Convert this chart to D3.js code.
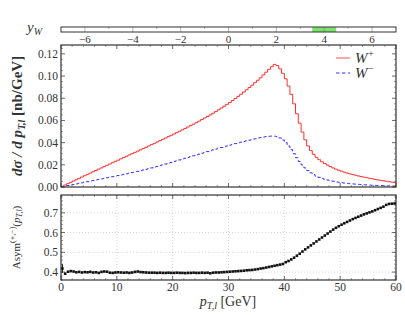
<!DOCTYPE html>
<html>
<head>
<meta charset="utf-8">
<script src="https://cdn.jsdelivr.net/npm/d3@7"></script>
<style>
  body { margin: 0; background: #fff; }
  svg text { font-family: "Liberation Serif", "DejaVu Serif", serif; fill: #333; }
</style>
</head>
<body>
<div id="wrapper"></div>
<script>
// bins of 0.5 GeV in p_T,l, from 0 to 60
const binWidth = 0.5
const wPlus = [
  0.0006, 0.0018, 0.0030, 0.0042, 0.0054, 0.0066, 0.0078, 0.0090, 0.0102, 0.0114,
  0.0125, 0.0137, 0.0149, 0.0161, 0.0172, 0.0184, 0.0196, 0.0207, 0.0219, 0.0231,
  0.0242, 0.0254, 0.0266, 0.0277, 0.0289, 0.0300, 0.0312, 0.0323, 0.0335, 0.0347,
  0.0358, 0.0370, 0.0382, 0.0394, 0.0406, 0.0418, 0.0430, 0.0442, 0.0454, 0.0466,
  0.0478, 0.0490, 0.0503, 0.0515, 0.0528, 0.0541, 0.0554, 0.0567, 0.0580, 0.0594,
  0.0608, 0.0622, 0.0636, 0.0650, 0.0665, 0.0680, 0.0696, 0.0712, 0.0728, 0.0745,
  0.0762, 0.0780, 0.0798, 0.0817, 0.0836, 0.0856, 0.0876, 0.0897, 0.0918, 0.0940,
  0.0962, 0.0984, 0.1010, 0.1035, 0.1060, 0.1085, 0.1105, 0.1095, 0.1065, 0.1025,
  0.0975, 0.0910, 0.0835, 0.0750, 0.0660, 0.0575, 0.0495, 0.0425, 0.0370, 0.0328,
  0.0295, 0.0268, 0.0246, 0.0227, 0.0211, 0.0197, 0.0184, 0.0172, 0.0161, 0.0151,
  0.0142, 0.0134, 0.0126, 0.0119, 0.0112, 0.0106, 0.0100, 0.0094, 0.0089, 0.0084,
  0.0079, 0.0075, 0.0068, 0.0064, 0.0060, 0.0056, 0.0052, 0.0048, 0.0044, 0.0040,
]
const wMinus = [
  0.0003, 0.0008, 0.0013, 0.0018, 0.0023, 0.0028, 0.0033, 0.0038, 0.0043, 0.0048,
  0.0053, 0.0058, 0.0063, 0.0068, 0.0073, 0.0078, 0.0083, 0.0088, 0.0093, 0.0098,
  0.0103, 0.0108, 0.0113, 0.0119, 0.0124, 0.0130, 0.0135, 0.0141, 0.0147, 0.0153,
  0.0159, 0.0166, 0.0172, 0.0179, 0.0186, 0.0193, 0.0200, 0.0207, 0.0214, 0.0221,
  0.0229, 0.0236, 0.0244, 0.0251, 0.0259, 0.0266, 0.0274, 0.0281, 0.0289, 0.0296,
  0.0304, 0.0311, 0.0319, 0.0326, 0.0334, 0.0341, 0.0349, 0.0356, 0.0363, 0.0370,
  0.0377, 0.0384, 0.0391, 0.0397, 0.0404, 0.0410, 0.0416, 0.0422, 0.0428, 0.0434,
  0.0440, 0.0445, 0.0450, 0.0454, 0.0457, 0.0459, 0.0458, 0.0453, 0.0442, 0.0424,
  0.0400, 0.0370, 0.0336, 0.0300, 0.0264, 0.0230, 0.0199, 0.0172, 0.0148, 0.0128,
  0.0112, 0.0098, 0.0087, 0.0078, 0.0070, 0.0063, 0.0057, 0.0052, 0.0047, 0.0043,
  0.0039, 0.0036, 0.0033, 0.0030, 0.0028, 0.0026, 0.0024, 0.0022, 0.0020, 0.0019,
  0.0017, 0.0016, 0.0015, 0.0014, 0.0013, 0.0012, 0.0011, 0.0010, 0.0010, 0.0009,
]
const asym = [
  0.418, 0.392, 0.402, 0.405, 0.403, 0.399, 0.401, 0.398, 0.400, 0.399,
  0.401, 0.398, 0.399, 0.396, 0.401, 0.403, 0.402, 0.397, 0.396, 0.398,
  0.399, 0.398, 0.397, 0.398, 0.396, 0.398, 0.401, 0.403, 0.400, 0.399,
  0.398, 0.397, 0.397, 0.397, 0.396, 0.397, 0.396, 0.396, 0.397, 0.396,
  0.396, 0.397, 0.396, 0.396, 0.395, 0.396, 0.396, 0.397, 0.396, 0.396,
  0.397, 0.396, 0.397, 0.394, 0.397, 0.398, 0.398, 0.399, 0.400, 0.401,
  0.402, 0.403, 0.404, 0.405, 0.406, 0.407, 0.409, 0.410, 0.411, 0.413,
  0.415, 0.418, 0.420, 0.423, 0.426, 0.429, 0.432, 0.435, 0.438, 0.441,
  0.450, 0.456, 0.464, 0.473, 0.483, 0.493, 0.504, 0.515, 0.525, 0.535,
  0.545, 0.555, 0.565, 0.575, 0.585, 0.595, 0.605, 0.615, 0.624, 0.632,
  0.640, 0.647, 0.654, 0.661, 0.668, 0.674, 0.680, 0.686, 0.692, 0.697,
  0.702, 0.707, 0.713, 0.719, 0.725, 0.731, 0.740, 0.745, 0.746, 0.747,
]
const asymErr0 = 0.022
const yWTicks = [-6, -4, -2, 0, 2, 4, 6]
const yWBin = [3.5, 4.5]
const mainYTicks = [0, 0.02, 0.04, 0.06, 0.08, 0.10, 0.12]
const asymYTicks = [0.4, 0.5, 0.6, 0.7]
const ptTicks = [0, 10, 20, 30, 40, 50, 60]

const plot = { left: 61, right: 396 }
const bar = { top: 27, bottom: 32 }
const main = { top: 45, bottom: 187 }
const low = { top: 195, bottom: 280 }

const svg = d3.select("#wrapper")
  .append("svg")
  .attr("width", 405)
  .attr("height", 315)

const xScale = d3.scaleLinear().domain([0, 60]).range([plot.left, plot.right])
const yWScale = d3.scaleLinear().domain([-7, 7]).range([plot.left, plot.right])
const yMain = d3.scaleLinear().domain([0, 0.128]).range([main.bottom, main.top])
const yAsym = d3.scaleLinear().domain([0.36, 0.79]).range([low.bottom, low.top])

// ---- rapidity bin indicator
svg.append("rect")
  .attr("x", yWScale(yWBin[0])).attr("y", bar.top)
  .attr("width", yWScale(yWBin[1]) - yWScale(yWBin[0]))
  .attr("height", bar.bottom - bar.top)
  .attr("fill", "#7be36b")
d3.range(-6, 7).forEach(v => {
  svg.append("line")
    .attr("x1", yWScale(v)).attr("x2", yWScale(v))
    .attr("y1", bar.top).attr("y2", v % 2 === 0 ? bar.bottom : bar.top + 2)
    .attr("stroke", "#888").attr("stroke-width", 0.6)
})
svg.append("rect")
  .attr("x", plot.left).attr("y", bar.top)
  .attr("width", plot.right - plot.left).attr("height", bar.bottom - bar.top)
  .attr("fill", "none").attr("stroke", "#333").attr("stroke-width", 1)
svg.selectAll(".ywlab").data(yWTicks).join("text")
  .attr("x", d => yWScale(d)).attr("y", 43)
  .attr("text-anchor", "middle").attr("font-size", 11)
  .text(d => d < 0 ? "\u2212" + (-d) : d)
svg.append("text").attr("x", 27).attr("y", 32)
  .attr("font-size", 15).attr("font-style", "italic")
  .html('y<tspan font-size="10" dy="3">W</tspan>')

// ---- frame helper with inward ticks
function frame(top, bottom, yScale, yMajor, yMinorStep, showX) {
  const g = svg.append("g")
  const xMinor = d3.range(0, 60.01, 2)
  xMinor.forEach(v => {
    const major = v % 10 === 0
    const len = major ? 4 : 2
    ;[[bottom, bottom - len], [top, top + len]].forEach(([a, b]) => {
      g.append("line").attr("x1", xScale(v)).attr("x2", xScale(v))
        .attr("y1", a).attr("y2", b)
        .attr("stroke", "#444").attr("stroke-width", major ? 0.8 : 0.5)
    })
  })
  const [y0, y1] = yScale.domain()
  d3.range(Math.ceil(y0 / yMinorStep) * yMinorStep, y1, yMinorStep).forEach(v => {
    const major = yMajor.some(m => Math.abs(m - v) < 1e-6)
    const len = major ? 4 : 2
    ;[[plot.left, plot.left + len], [plot.right, plot.right - len]].forEach(([a, b]) => {
      g.append("line").attr("x1", a).attr("x2", b)
        .attr("y1", yScale(v)).attr("y2", yScale(v))
        .attr("stroke", "#444").attr("stroke-width", major ? 0.8 : 0.5)
    })
  })
  g.append("rect")
    .attr("x", plot.left).attr("y", top)
    .attr("width", plot.right - plot.left).attr("height", bottom - top)
    .attr("fill", "none").attr("stroke", "#333").attr("stroke-width", 1.2)
  g.selectAll(".ylab").data(yMajor).join("text")
    .attr("x", plot.left - 3).attr("y", d => yScale(d) + 4)
    .attr("text-anchor", "end").attr("font-size", 11.5)
    .text(d => d3.format(yMajor[1] - yMajor[0] < 0.05 ? ".2f" : ".1f")(d))
  if (showX) {
    g.selectAll(".xlab").data(ptTicks).join("text")
      .attr("x", d => xScale(d)).attr("y", bottom + 11)
      .attr("text-anchor", "middle").attr("font-size", 11.5)
      .text(d => d)
  }
}

// ---- main panel
const edges = wPlus.map((d, i) => i * binWidth)
const stepLine = d3.line()
  .x(d => xScale(d[0]))
  .y(d => yMain(d[1]))
  .curve(d3.curveStepAfter)
const toSteps = vals => vals.map((v, i) => [edges[i], v]).concat([[60, vals[vals.length - 1]]])

svg.append("path")
  .attr("d", stepLine(toSteps(wPlus)))
  .attr("fill", "none").attr("stroke", "#ff3030").attr("stroke-width", 1)
svg.append("path")
  .attr("d", stepLine(toSteps(wMinus)))
  .attr("fill", "none").attr("stroke", "#3030ff").attr("stroke-width", 1)
  .attr("stroke-dasharray", "3.5,2.5")

frame(main.top, main.bottom, yMain, mainYTicks, 0.005, false)

// legend
svg.append("line").attr("x1", 336).attr("x2", 350).attr("y1", 58).attr("y2", 58)
  .attr("stroke", "#ff6b6b").attr("stroke-width", 1.2)
svg.append("text").attr("x", 355).attr("y", 63).attr("font-size", 15).attr("font-style", "italic")
  .html('W<tspan font-size="10" dy="-6">+</tspan>')
svg.append("line").attr("x1", 336).attr("x2", 350).attr("y1", 73).attr("y2", 73)
  .attr("stroke", "#3030ff").attr("stroke-width", 1).attr("stroke-dasharray", "3.5,2.5")
svg.append("text").attr("x", 355).attr("y", 78).attr("font-size", 15).attr("font-style", "italic")
  .html('W<tspan font-size="10" dy="-6">\u2212</tspan>')

svg.append("text")
  .attr("transform", `translate(22, ${(main.top + main.bottom) / 2}) rotate(-90)`)
  .attr("text-anchor", "middle").attr("font-size", 15).attr("font-weight", "bold")
  .html('<tspan font-style="italic">d\u03c3 / d p</tspan><tspan font-size="10" dy="3" font-style="italic">T,l</tspan><tspan dy="-3"> [nb/GeV]</tspan>')

// ---- asymmetry panel
const gridG = svg.append("g")
ptTicks.slice(1, -1).forEach(v => {
  gridG.append("line").attr("x1", xScale(v)).attr("x2", xScale(v))
    .attr("y1", low.top).attr("y2", low.bottom)
    .attr("stroke", "#bbb").attr("stroke-width", 0.6).attr("stroke-dasharray", "1,2")
})
asymYTicks.forEach(v => {
  gridG.append("line").attr("x1", plot.left).attr("x2", plot.right)
    .attr("y1", yAsym(v)).attr("y2", yAsym(v))
    .attr("stroke", "#bbb").attr("stroke-width", 0.6).attr("stroke-dasharray", "1,2")
})

frame(low.top, low.bottom, yAsym, asymYTicks, 0.02, true)

svg.append("line")
  .attr("x1", xScale(edges[0] + binWidth / 2)).attr("x2", xScale(edges[0] + binWidth / 2))
  .attr("y1", yAsym(asym[0] - asymErr0)).attr("y2", yAsym(asym[0] + asymErr0))
  .attr("stroke", "#111").attr("stroke-width", 1)
svg.selectAll(".asym").data(asym).join("rect")
  .attr("x", (d, i) => xScale(edges[i] + binWidth / 2) - 1.3)
  .attr("y", d => yAsym(d) - 1.3)
  .attr("width", 2.6).attr("height", 2.6)
  .attr("fill", "#111")

svg.append("text")
  .attr("transform", `translate(20, ${(low.top + low.bottom) / 2}) rotate(-90)`)
  .attr("text-anchor", "middle").attr("font-size", 11)
  .html('Asym<tspan font-size="8" dy="-5">(+,\u2212)</tspan><tspan dy="5">(</tspan><tspan font-style="italic">p</tspan><tspan font-size="8" dy="2" font-style="italic">T,l</tspan><tspan dy="-2">)</tspan>')

svg.append("text")
  .attr("x", 228).attr("y", 306).attr("text-anchor", "middle").attr("font-size", 14)
  .html('<tspan font-style="italic">p</tspan><tspan font-size="10" dy="3" font-style="italic">T,l</tspan><tspan dy="-3"> [GeV]</tspan>')
</script>
</body>
</html>
